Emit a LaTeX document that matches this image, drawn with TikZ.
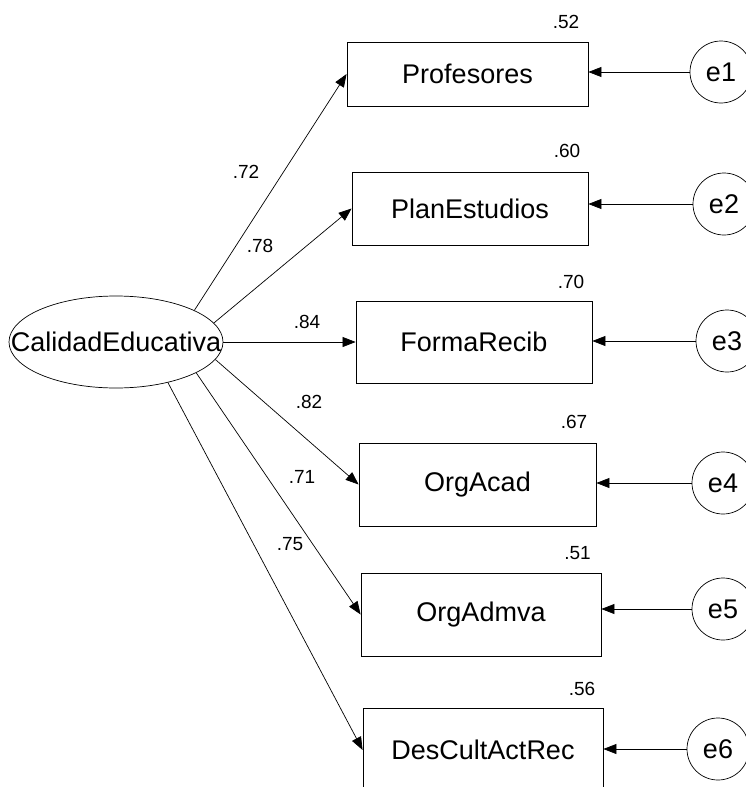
\documentclass[tikz,border=0pt]{standalone}
\usepackage{fontspec}
\setmainfont{Liberation Sans}
\usetikzlibrary{arrows.meta,shapes.geometric}

\tikzset{
  obs/.style={draw, line width=0.8pt, inner sep=0pt, font=\fontsize{27}{30}\selectfont},
  err/.style={draw, circle, minimum size=62pt, inner sep=0pt, line width=0.7pt, font=\fontsize{27}{30}\selectfont},
  coef/.style={inner sep=0pt, font=\fontsize{19}{22}\selectfont},
  load/.style={-{Triangle[length=13pt,width=10pt]}, line width=0.7pt}
}

\begin{document}
\begin{tikzpicture}[x=1pt, y=-1pt]
    \useasboundingbox (0,0) rectangle (746,787);
    \clip (0,0) rectangle (746,787);

    % Latent variable
    \node[draw, ellipse, minimum width=214pt, minimum height=92pt, inner sep=0pt, line width=0.7pt,
          label={[font=\fontsize{27}{30}\selectfont]center:CalidadEducativa}] (cal) at (116,342) {};

    % Observed variables
    \node[obs, minimum width=241pt, minimum height=64pt] (prof)  at (467.5,74)  {Profesores};
    \node[obs, minimum width=236pt, minimum height=73pt] (plan)  at (470,208.5) {PlanEstudios};
    \node[obs, minimum width=236pt, minimum height=82pt] (forma) at (474,342)   {FormaRecib};
    \node[obs, minimum width=237pt, minimum height=83pt] (acad)  at (477.5,484.5) {OrgAcad};
    \node[obs, minimum width=240pt, minimum height=83pt] (admva) at (481,614.5) {OrgAdmva};
    \node[obs, minimum width=240pt, minimum height=83pt] (des)   at (483,750)   {DesCultActRec};

    % Error terms
    \node[err] (e1) at (721,72)  {e1};
    \node[err] (e2) at (724,204) {e2};
    \node[err] (e3) at (727,341) {e3};
    \node[err] (e4) at (723,483) {e4};
    \node[err] (e5) at (723,609) {e5};
    \node[err] (e6) at (718,749) {e6};

    % Loadings
    \draw[load] (cal.22)   -- (prof.west);
    \draw[load] (cal.11)   -- (plan.west);
    \draw[load] (cal.east) -- (forma.west);
    \draw[load] (cal.-10)  -- (acad.west);
    \draw[load] (cal.-21)  -- (admva.west);
    \draw[load] (cal.-38)  -- (des.west);

    % Errors to indicators
    \draw[load] (e1) -- (prof.east |- e1);
    \draw[load] (e2) -- (plan.east |- e2);
    \draw[load] (e3) -- (forma.east |- e3);
    \draw[load] (e4) -- (acad.east |- e4);
    \draw[load] (e5) -- (admva.east |- e5);
    \draw[load] (e6) -- (des.east |- e6);

    % Standardized loadings
    \node[coef] (w1) at (246,172) {.72};
    \node[coef] (w2) at (260,246) {.78};
    \node[coef] (w3) at (307,322) {.84};
    \node[coef] (w4) at (309,402) {.82};
    \node[coef] (w5) at (302,477) {.71};
    \node[coef] (w6) at (290,544) {.75};

    % Squared multiple correlations
    \node[coef] (r1) at (566,22)  {.52};
    \node[coef] (r2) at (567,151) {.60};
    \node[coef] (r3) at (571,282) {.70};
    \node[coef] (r4) at (574,422) {.67};
    \node[coef] (r5) at (577.5,553) {.51};
    \node[coef] (r6) at (582,689) {.56};

\end{tikzpicture}
\end{document}
